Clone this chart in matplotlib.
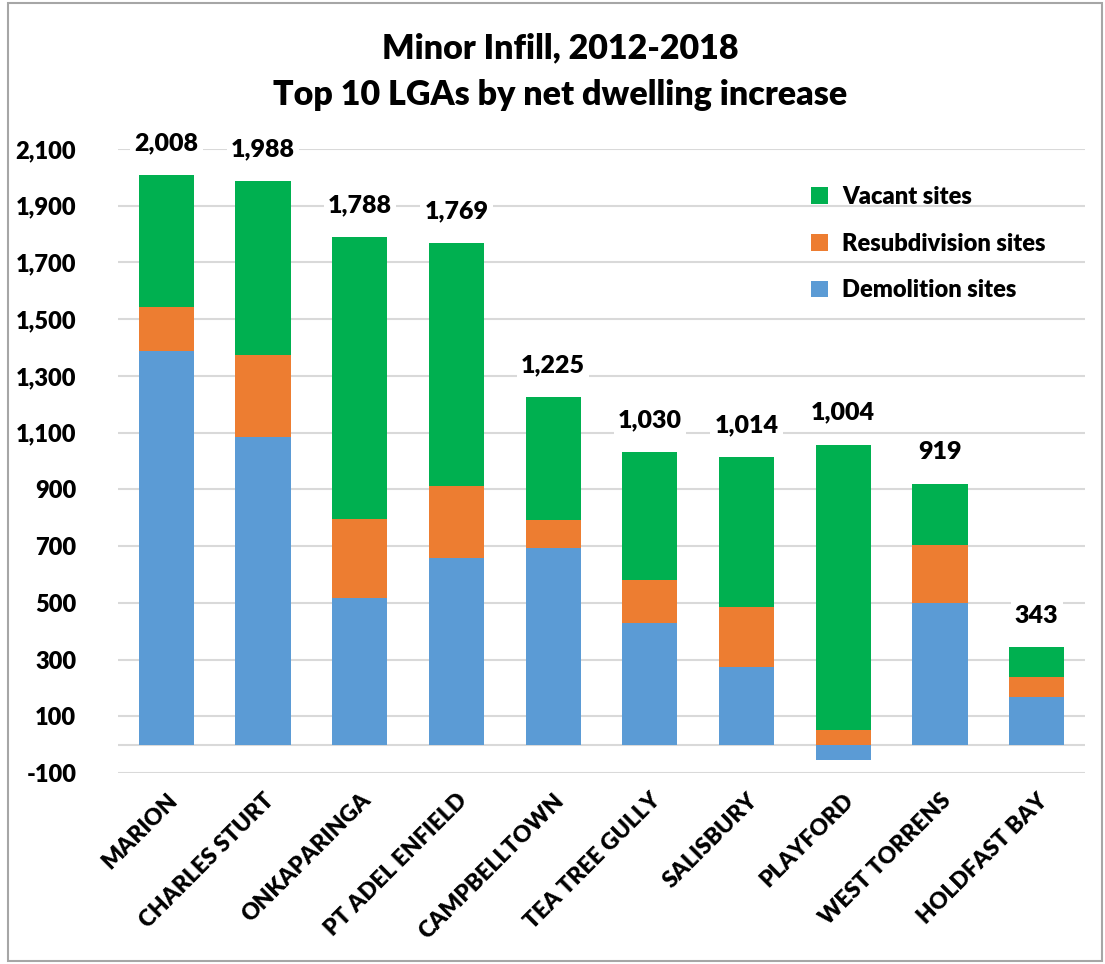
import matplotlib.pyplot as plt
import numpy as np
from matplotlib.patches import Rectangle

lgas = ['MARION', 'CHARLES STURT', 'ONKAPARINGA', 'PT ADEL ENFIELD', 'CAMPBELLTOWN',
        'TEA TREE GULLY', 'SALISBURY', 'PLAYFORD', 'WEST TORRENS', 'HOLDFAST BAY']
demolition = [1388, 1085, 517, 658, 693, 429, 274, -54, 499, 168]
resubdivision = [155, 289, 279, 254, 99, 151, 211, 52, 205, 70]
vacant = [465, 614, 992, 857, 433, 450, 529, 1006, 215, 105]
totals = [2008, 1988, 1788, 1769, 1225, 1030, 1014, 1004, 919, 343]

plt.rcParams['font.family'] = ['Lato', 'DejaVu Sans']
plt.rcParams['font.weight'] = 'bold'
WT = 'heavy'

fig = plt.figure(figsize=(11.05, 9.64), dpi=100)
ax = fig.add_axes([118/1105, (964-773)/964, (1085-118)/1105, (773-149)/964])

x = np.arange(len(lgas))
demo = np.array(demolition)
resub = np.array(resubdivision)
vac = np.array(vacant)
w = 0.57

# negative demolition goes below zero, the other stacks start at max(demo, 0)
resub_base = np.clip(demo, 0, None)
vac_base = resub_base + resub

b1 = ax.bar(x, demo, w, color='#5B9BD5', label='Demolition sites', zorder=3)
b2 = ax.bar(x, resub, w, bottom=resub_base, color='#ED7D31', label='Resubdivision sites', zorder=3)
b3 = ax.bar(x, vac, w, bottom=vac_base, color='#00B050', label='Vacant sites', zorder=3)

tops = vac_base + vac
for xi, top, tot in zip(x, tops, totals):
    ax.text(xi, top + 112, f'{tot:,}', ha='center', va='center', fontsize=18,
            fontweight=WT, zorder=4,
            bbox=dict(facecolor='white', edgecolor='none', pad=3))

ax.set_xlim(-0.5, len(lgas) - 0.5)
ax.set_ylim(-100, 2100)
ax.set_yticks(np.arange(-100, 2101, 200))
ax.set_yticklabels([f'{v:,}' for v in np.arange(-100, 2101, 200)], fontsize=17, fontweight=WT)
ax.yaxis.grid(True, color='#D9D9D9', linewidth=1.5, zorder=0)
ax.axhline(0, color='#D9D9D9', linewidth=1.5, zorder=2)
ax.set_xticks(x)
ax.set_xticklabels(lgas, rotation=45, ha='right', rotation_mode='anchor', fontsize=16.5, fontweight=WT)
ax.tick_params(length=0, pad=12)
ax.tick_params(axis='y', pad=30)
for s in ax.spines.values():
    s.set_visible(False)

ax.legend(handles=[b3, b2, b1], loc='upper left', bbox_to_anchor=(0.695, 0.975), frameon=False,
          prop={'weight': WT, 'size': 17}, handlelength=0.7, handleheight=0.7,
          labelspacing=1.05, handletextpad=0.6)

fig.text(0.507, 0.95, 'Minor Infill, 2012-2018', ha='center', va='center', fontsize=24.5, fontweight=WT)
fig.text(0.507, 0.901, 'Top 10 LGAs by net dwelling increase', ha='center', va='center', fontsize=24.5, fontweight=WT)

fig.patches.append(Rectangle((0.007, 0.003), 0.99, 0.994, transform=fig.transFigure,
                             fill=False, edgecolor='#A6A6A6', linewidth=1.5))

fig.savefig('out.png', dpi=100)
